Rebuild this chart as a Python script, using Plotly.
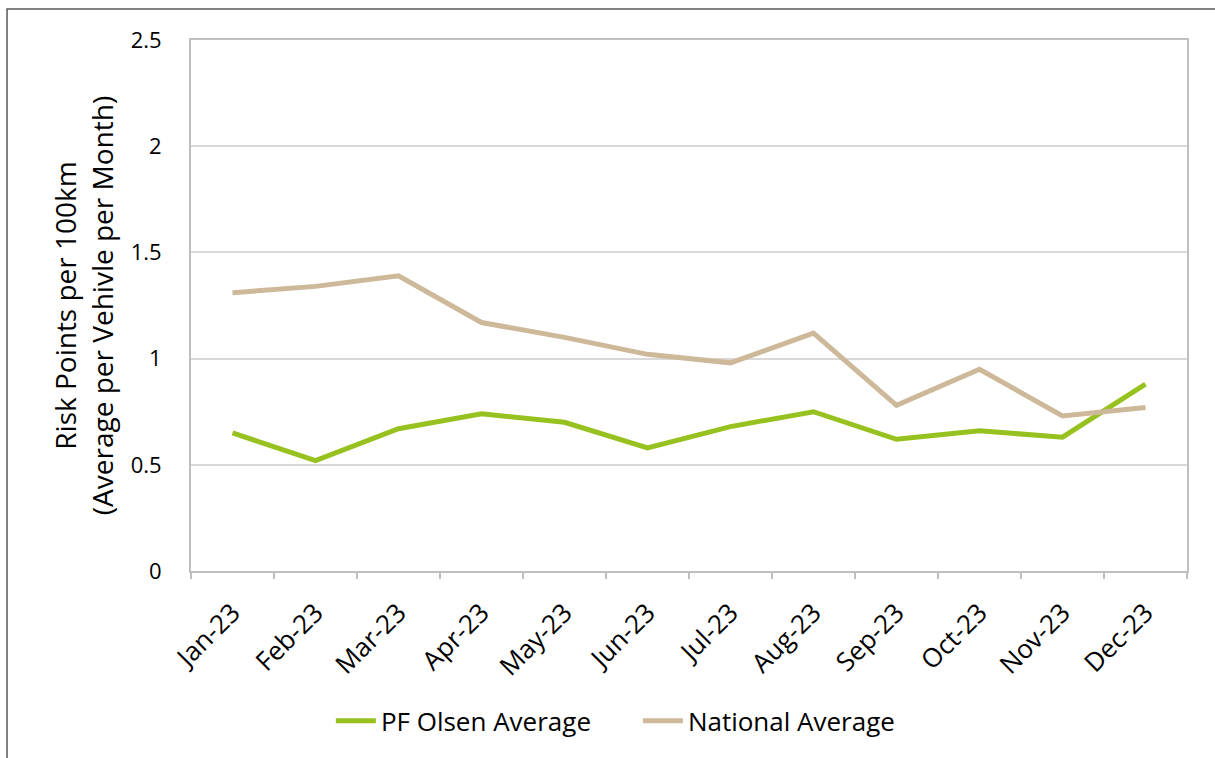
import plotly.graph_objects as go

# Monthly risk points per 100 km
months = ["Jan-23", "Feb-23", "Mar-23", "Apr-23", "May-23", "Jun-23",
          "Jul-23", "Aug-23", "Sep-23", "Oct-23", "Nov-23", "Dec-23"]
pf_olsen = [0.65, 0.52, 0.67, 0.74, 0.70, 0.58, 0.68, 0.75, 0.62, 0.66, 0.63, 0.88]
national = [1.31, 1.34, 1.39, 1.17, 1.10, 1.02, 0.98, 1.12, 0.78, 0.95, 0.73, 0.77]
y_ticks = [0, 0.5, 1, 1.5, 2, 2.5]

GREEN = "#97C11F"
TAN = "#CDB899"
GRID = "#D9D9D9"
AXIS = "#BFBFBF"
FONT = "Open Sans, Lato, sans-serif"

fig = go.Figure()
fig.add_trace(go.Scatter(x=months, y=pf_olsen, mode="lines", name="PF Olsen Average",
                         line=dict(color=GREEN, width=5)))
fig.add_trace(go.Scatter(x=months, y=national, mode="lines", name="National Average",
                         line=dict(color=TAN, width=5)))

# outer chart frame
fig.add_shape(type="rect", xref="paper", yref="paper",
              x0=-0.1847, x1=1.2, y0=-0.5, y1=1.0584,
              line=dict(color="#595959", width=1.5), layer="below")

fig.update_layout(
    width=1215, height=758,
    margin=dict(l=191, r=28, t=40, b=187),
    paper_bgcolor="white", plot_bgcolor="white",
    showlegend=True,
    legend=dict(orientation="h", xref="container", yref="container",
                x=0.525, xanchor="center", y=0.049, yanchor="middle",
                font=dict(family=FONT, size=26, color="#000000"),
                itemwidth=40, entrywidth=252, entrywidthmode="pixels",
                tracegroupgap=0, bgcolor="rgba(0,0,0,0)"),
    xaxis=dict(type="category", range=[-0.5, 11.5], tickangle=-45, tickson="boundaries",
               ticks="outside", ticklen=6, tickcolor=AXIS, tickwidth=1.5,
               showline=True, linecolor=AXIS, linewidth=2, mirror=True,
               showgrid=False, ticklabelstandoff=14,
               tickfont=dict(family=FONT, size=26, color="#000000")),
    yaxis=dict(range=[0, 2.5], tickvals=y_ticks, ticktext=["0", "0.5", "1", "1.5", "2", "2.5"],
               showgrid=True, gridcolor=GRID, gridwidth=2,
               showline=True, linecolor=AXIS, linewidth=2, mirror=True,
               ticks="", ticklabelstandoff=23, zeroline=False,
               tickfont=dict(family=FONT, size=22, color="#000000"),
               title=dict(text="Risk Points per 100km<br>(Average per Vehivle per Month)",
                          standoff=9,
                          font=dict(family=FONT, size=28, color="#000000"))),
)

fig.write_html("out.html")
